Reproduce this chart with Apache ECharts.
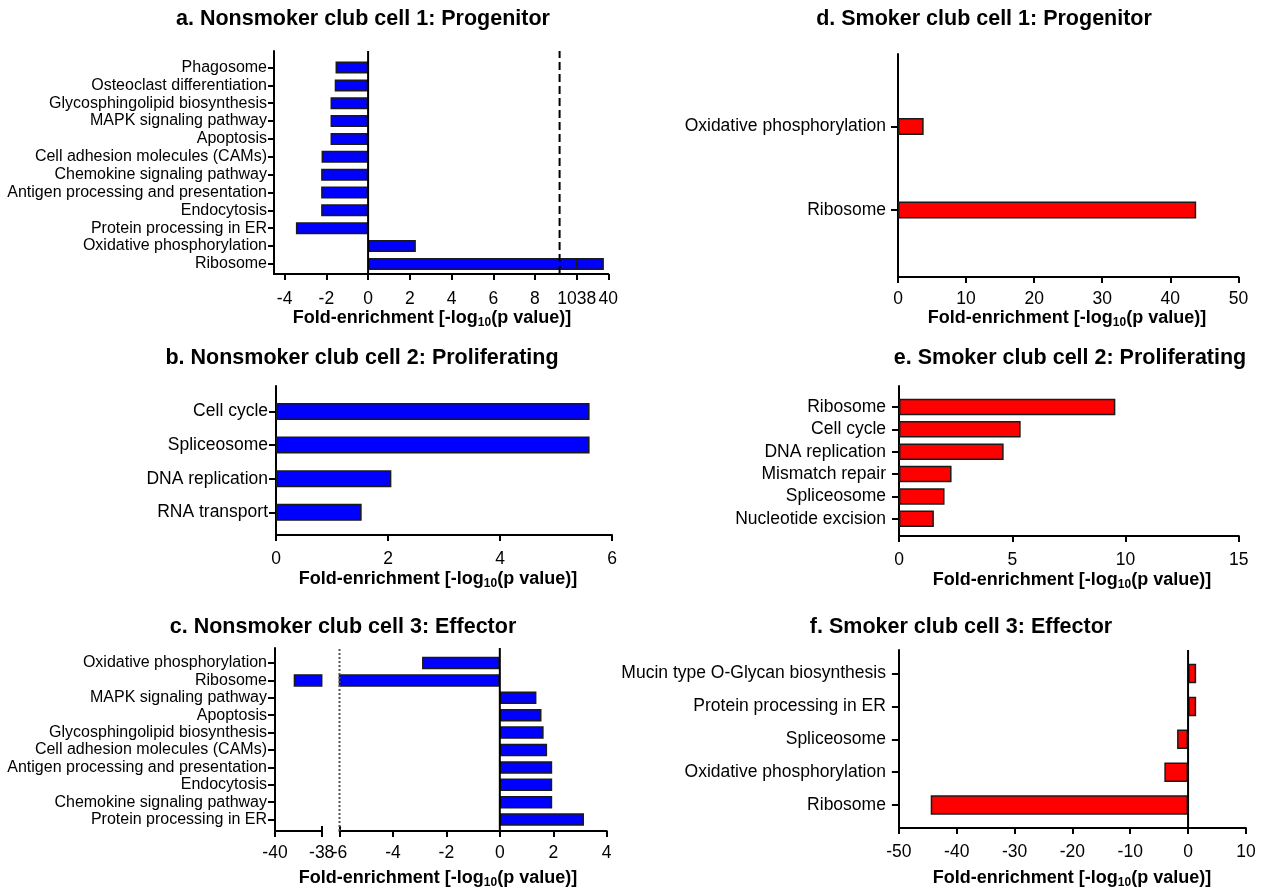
<!DOCTYPE html>
<html>
<head>
<meta charset="utf-8">
<script src="https://cdn.jsdelivr.net/npm/echarts@6/dist/echarts.min.js"></script>
<style>
html,body{margin:0;padding:0;background:#fff;}
#chart{width:1262px;height:889px;}
</style>
</head>
<body>
<div id="chart"></div>
<script>
// ---------------- DATA ----------------
const aCats = ['Phagosome','Osteoclast differentiation','Glycosphingolipid biosynthesis','MAPK signaling pathway','Apoptosis','Cell adhesion molecules (CAMs)','Chemokine signaling pathway','Antigen processing and presentation','Endocytosis','Protein processing in ER','Oxidative phosphorylation','Ribosome'];
const aVals = [-1.56, -1.6, -1.8, -1.8, -1.8, -2.23, -2.25, -2.25, -2.25, -3.46, 2.29, 39.72];
const aTicksLow = [-4, -2, 0, 2, 4, 6, 8, 10];
const aTicksHigh = [38, 40];
const aDashX = 9.18;

const bCats = ['Cell cycle','Spliceosome','DNA replication','RNA transport'];
const bVals = [5.6, 5.6, 2.06, 1.53];
const bTicks = [0, 2, 4, 6];

const cCats = ['Oxidative phosphorylation','Ribosome','MAPK signaling pathway','Apoptosis','Glycosphingolipid biosynthesis','Cell adhesion molecules (CAMs)','Antigen processing and presentation','Endocytosis','Chemokine signaling pathway','Protein processing in ER'];
const cVals = [-2.91, -39.2, 1.37, 1.56, 1.64, 1.77, 1.96, 1.96, 1.96, 3.15];
const cTicksLow = [-40, -38];
const cTicksHigh = [-6, -4, -2, 0, 2, 4];
const cBreakLow = [-38];
const cBreakHigh = [-6];
const cDotX = -6;

const dCats = ['Oxidative phosphorylation','Ribosome'];
const dVals = [3.77, 43.8];
const dTicks = [0, 10, 20, 30, 40, 50];

const eCats = ['Ribosome','Cell cycle','DNA replication','Mismatch repair','Spliceosome','Nucleotide excision'];
const eVals = [9.55, 5.37, 4.62, 2.32, 2.01, 1.54];
const eTicks = [0, 5, 10, 15];

const fCats = ['Mucin type O-Glycan biosynthesis','Protein processing in ER','Spliceosome','Oxidative phosphorylation','Ribosome'];
const fVals = [1.4, 1.4, -1.9, -4.1, -44.5];
const fTicks = [-50, -40, -30, -20, -10, 0, 10];

const panelTitles = ['a. Nonsmoker club cell 1: Progenitor','b. Nonsmoker club cell 2: Proliferating','c. Nonsmoker club cell 3: Effector','d. Smoker club cell 1: Progenitor','e. Smoker club cell 2: Proliferating','f. Smoker club cell 3: Effector'];
const axisTitle = '{m|Fold-enrichment [-log}{s|10}{m|(p value)]}';

// ---------------- STYLE / LAYOUT ----------------
const FONT = "'Liberation Sans', Arial, Helvetica, sans-serif";
const BLUE = '#0000ff', RED = '#ff0000';

const panels = [
  { cats:aCats, vals:aVals, color:BLUE, frameTop:51, axisY:274, bandTop:58.6, rowH:17.85, barW:12, labelSize:16, labelMargin:7, tickLen:6, xLabelMargin:16.5,
    segs:[{x0:274, x1:576.7, min:-4.51, max:10, ticks:aTicksLow, alignMax:'right'},
          {x0:576.7, x1:608.3, min:38, max:40, ticks:aTicksHigh, alignMin:'left'}],
    lines:[{seg:0, x:0, type:'solid'}, {seg:0, x:aDashX, type:'dashed'}],
    title:{x:363, y:19}, axTitle:{x:432, y:318} },
  { cats:bCats, vals:bVals, color:BLUE, frameTop:386, axisY:535, bandTop:394.7, rowH:33.6, barW:17, labelSize:17.5, labelMargin:8, tickLen:7, xLabelMargin:15,
    segs:[{x0:276, x1:612, min:0, max:6, ticks:bTicks}],
    lines:[], title:{x:362, y:358}, axTitle:{x:438, y:579} },
  { cats:cCats, vals:cVals, color:BLUE, frameTop:648, axisY:831, bandTop:654.3, rowH:17.4, barW:12.5, labelSize:16, labelMargin:8, tickLen:7, xLabelMargin:13,
    segs:[{x0:275, x1:321.7, min:-40, max:-38, ticks:cTicksLow, breakTicks:cBreakLow},
          {x0:339.5, x1:606.7, min:-6, max:4, ticks:cTicksHigh, breakTicks:cBreakHigh}],
    lines:[{seg:1, x:0, type:'solid'}, {seg:1, x:cDotX, type:'dotted', color:'#555'}],
    title:{x:343, y:627}, axTitle:{x:438, y:878} },
  { cats:dCats, vals:dVals, color:RED, frameTop:54, axisY:277, bandTop:84.75, rowH:83.5, barW:17, labelSize:17.5, labelMargin:12, tickLen:7, xLabelMargin:13,
    segs:[{x0:898, x1:1238.4, min:0, max:50, ticks:dTicks}],
    lines:[], title:{x:984, y:19}, axTitle:{x:1067, y:318} },
  { cats:eCats, vals:eVals, color:RED, frameTop:386, axisY:536, bandTop:395.8, rowH:22.35, barW:16.5, labelSize:17.5, labelMargin:13, tickLen:7, xLabelMargin:15,
    segs:[{x0:899, x1:1238.8, min:0, max:15, ticks:eTicks}],
    lines:[], title:{x:1070, y:358}, axTitle:{x:1072, y:580} },
  { cats:fCats, vals:fVals, color:RED, frameTop:650, axisY:828, bandTop:657.05, rowH:32.9, barW:19.5, labelSize:17.5, labelMargin:13, tickLen:7, xLabelMargin:15,
    segs:[{x0:898.9, x1:1245.9, min:-50, max:10, ticks:fTicks}],
    lines:[{seg:0, x:0, type:'solid'}], title:{x:961, y:627}, axTitle:{x:1072, y:878} }
];

const grids = [], xAxes = [], yAxes = [], series = [], titles = [];
const axLine = { show:true, onZero:false, lineStyle:{ color:'#000', width:2 } };

panels.forEach((p, pi) => {
  const frameAx = [];
  p.segs.forEach((s, si) => {
    // frame grid: draws the L-shaped axes and numeric ticks
    const fg = grids.length;
    grids.push({ left:s.x0, top:p.frameTop, width:s.x1 - s.x0, height:p.axisY - p.frameTop, containLabel:false, outerBoundsMode:'none' });
    const fx = xAxes.length;
    xAxes.push({ gridIndex:fg, type:'value', min:s.min, max:s.max, position:'bottom',
      axisLine:axLine,
      axisTick:{ show:true, customValues:s.ticks, length:6, lineStyle:{ color:'#000', width:2 } },
      axisLabel:{ customValues:s.ticks, fontSize:17.5, color:'#000', fontFamily:FONT, margin:p.xLabelMargin,
                  alignMinLabel:s.alignMin || 'center', alignMaxLabel:s.alignMax || 'center' },
      splitLine:{ show:false } });
    if (s.breakTicks) {
      xAxes.push({ gridIndex:fg, type:'value', min:s.min, max:s.max, position:'bottom',
        axisLine:{ show:false, onZero:false },
        axisTick:{ show:true, inside:true, customValues:s.breakTicks, length:5, lineStyle:{ color:'#000', width:2 } },
        axisLabel:{ show:false }, splitLine:{ show:false } });
    }
    const fy = yAxes.length;
    yAxes.push({ gridIndex:fg, type:'value', min:0, max:1, show:si === 0,
      axisLine:axLine, axisTick:{ show:false }, axisLabel:{ show:false }, splitLine:{ show:false } });
    frameAx.push([fx, fy]);

    // band grid: categories and bars
    const bg = grids.length;
    grids.push({ left:s.x0, top:p.bandTop, width:s.x1 - s.x0, height:p.rowH * p.cats.length, containLabel:false, outerBoundsMode:'none' });
    const bx = xAxes.length;
    xAxes.push({ gridIndex:bg, type:'value', min:s.min, max:s.max, show:false, axisLine:{ show:false, onZero:false }, splitLine:{ show:false } });
    const by = yAxes.length;
    yAxes.push({ gridIndex:bg, type:'category', data:p.cats, inverse:true, show:si === 0, position:'left',
      axisLine:{ show:false, onZero:false },
      axisTick:{ show:true, alignWithLabel:true, length:p.tickLen, lineStyle:{ color:'#000', width:2 } },
      axisLabel:{ interval:0, fontSize:p.labelSize, margin:p.labelMargin, color:'#000', fontFamily:FONT },
      splitLine:{ show:false } });
    series.push({ type:'bar', xAxisIndex:bx, yAxisIndex:by, data:p.vals, barWidth:p.barW,
      itemStyle:{ color:p.color, borderColor:'#1a1a1a', borderWidth:1.5 }, silent:true, z:2 });
  });
  p.lines.forEach(l => {
    const [fx, fy] = frameAx[l.seg];
    series.push({ type:'line', xAxisIndex:fx, yAxisIndex:fy, data:[[l.x, 0], [l.x, 1]], symbol:'none', silent:true, z:5,
      lineStyle:{ color:l.color || '#000', width:2, type:l.type } });
  });
  titles.push({ text:panelTitles[pi], left:p.title.x, top:p.title.y, padding:0, textAlign:'center', textVerticalAlign:'middle',
    textStyle:{ fontFamily:FONT, fontWeight:'bold', fontSize:21.5, color:'#000' } });
  titles.push({ text:axisTitle, left:p.axTitle.x, top:p.axTitle.y, padding:0, textAlign:'center', textVerticalAlign:'middle',
    textStyle:{ rich:{
      m:{ fontFamily:FONT, fontWeight:'bold', fontSize:18, color:'#000', lineHeight:22 },
      s:{ fontFamily:FONT, fontWeight:'bold', fontSize:12, color:'#000', verticalAlign:'bottom', lineHeight:22 } } } });
});

const chart = echarts.init(document.getElementById('chart'), null, { renderer:'canvas' });
chart.setOption({
  backgroundColor:'#fff',
  animation:false,
  title:titles,
  grid:grids,
  xAxis:xAxes,
  yAxis:yAxes,
  series:series
});
</script>
</body>
</html>
